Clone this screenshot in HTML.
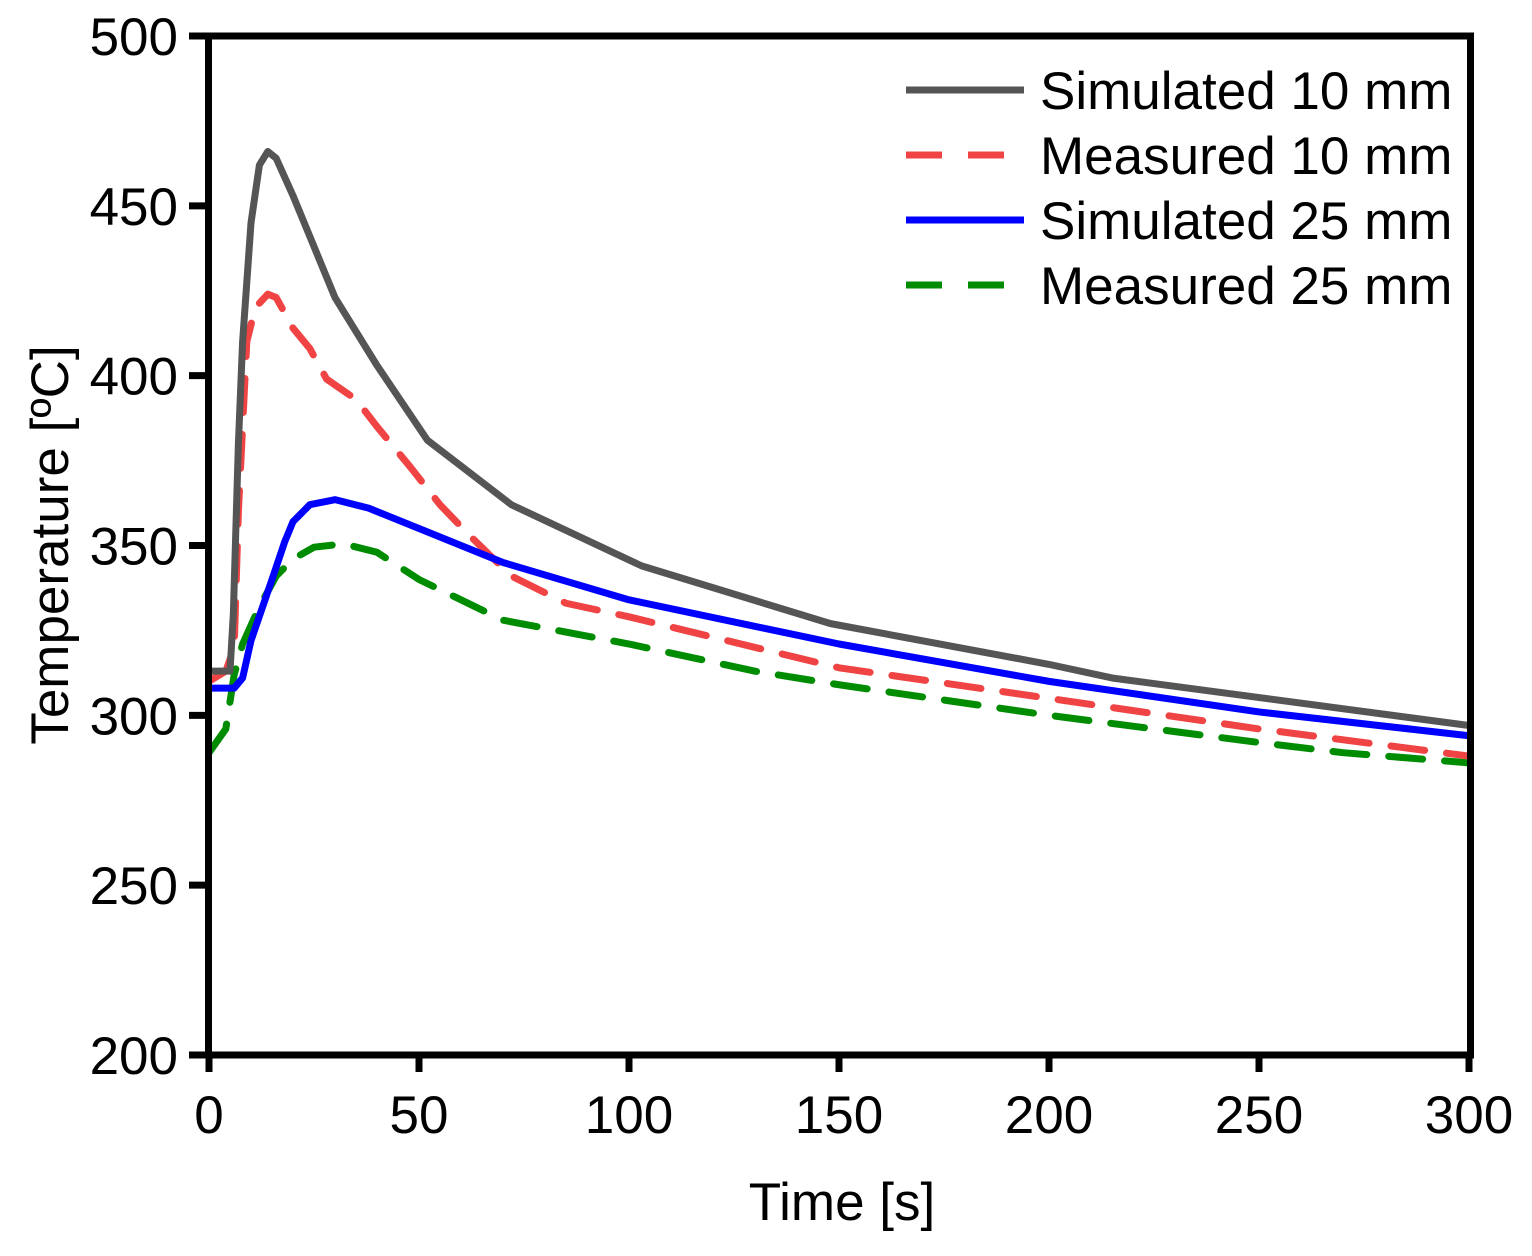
<!DOCTYPE html>
<html><head><meta charset="utf-8"><style>
body{margin:0;background:#fff}
svg text{font-family:"Liberation Sans",Arial,sans-serif;fill:#000}
</style></head><body>
<svg id="chart" width="1532" height="1251">
<g id="marks"></g>
<rect x="208.5" y="36" width="1262" height="1019" fill="none" stroke="#000" stroke-width="7"/>
<g id="axes"></g>
<text x="842" y="1220" font-size="53" text-anchor="middle">Time [s]</text>
<text transform="translate(68,545) rotate(-90)" font-size="53" text-anchor="middle">Temperature [ºC]</text>
<g id="legend"></g>
</svg>
<script>
const xTicks=[0,50,100,150,200,250,300];
const yTicks=[200,250,300,350,400,450,500];
const seriesNames=["Simulated 10 mm","Measured 10 mm","Simulated 25 mm","Measured 25 mm"];
const sim10T=[0,5,5.8,7,8,10,12,14,16,20,25,30,40,52,72,103,148,200,215,300];
const sim10V=[313,313,330,380,410,445,462,466,464,453,438,423,403,381,362,344,327,315,311,297];
const meas10T=[0,4,6,7,9,11,14,16,20,24,28,35,40,48,55,62,72,85,100,120,150,200,250,300];
const meas10V=[310,313,320,360,410,420,424,423,414,408,399,393,385,373,362,353,341,333,329,323,314,305,296,288];
const sim25T=[0,6,8,10,15,18,20,24,30,38,50,70,100,150,200,250,300];
const sim25V=[308,308,311,322,340,351,357,362,363.5,361,355,345,334,321,310,301,294];
const meas25T=[0,4,6,8,12,16,20,25,32,40,50,70,100,130,150,200,250,270,300];
const meas25V=[289,296,312,321,332,341,346,349.5,350.5,348,340,328,321,313,309,300,292,289,286];
const NS="http://www.w3.org/2000/svg";
const X=t=>209+t*(1469-209)/300;
const Y=v=>1055-(v-200)*(1055-36)/300;
function mk(tag,at,parent){const e=document.createElementNS(NS,tag);for(const k in at)e.setAttribute(k,at[k]);parent.appendChild(e);return e;}
const axes=document.getElementById('axes');
xTicks.forEach(t=>{
  const l=mk('line',{x1:X(t),x2:X(t),y1:1055,y2:1072,stroke:'#000','stroke-width':7},axes);
  
  
  const tx=mk('text',{x:X(t),y:1133,'font-size':53,'text-anchor':'middle'},axes);tx.textContent=t;
  
  
});
yTicks.forEach(v=>{
  const l=mk('line',{x1:189,x2:209,y1:Y(v),y2:Y(v),stroke:'#000','stroke-width':7},axes);
  
  
  const tx=mk('text',{x:178,y:Y(v)+19,'font-size':53,'text-anchor':'end'},axes);tx.textContent=v;
  
  
});
const styles=[{c:'#555555',d:''},{c:'#f04444',d:'34 22'},{c:'#0000ff',d:''},{c:'#008c00',d:'34 22'}];
const data=[[sim10T,sim10V],[meas10T,meas10V],[sim25T,sim25V],[meas25T,meas25V]];
const names=['series-simulated-10mm','series-measured-10mm','series-simulated-25mm','series-measured-25mm'];
const marks=document.getElementById('marks');
[3,1,2,0].forEach(i=>{
  const [T,V]=data[i];
  const p=mk('polyline',{points:T.map((t,j)=>X(t)+','+Y(V[j])).join(' '),fill:'none',stroke:styles[i].c,'stroke-width':7,'stroke-dasharray':styles[i].d,'stroke-linejoin':'round','stroke-linecap':'round'},marks);
  
  
});
const lg=document.getElementById('legend');
seriesNames.forEach((n,i)=>{
  const y=90+i*65;
  const l=mk('line',{x1:906,x2:1024,y1:y,y2:y,stroke:styles[i].c,'stroke-width':7,'stroke-dasharray':i%2?'36 26':''},lg);
  
  
  const tx=mk('text',{x:1040,y:y+19,'font-size':53},lg);tx.textContent=n;
  
  
});
</script>
</body></html>
